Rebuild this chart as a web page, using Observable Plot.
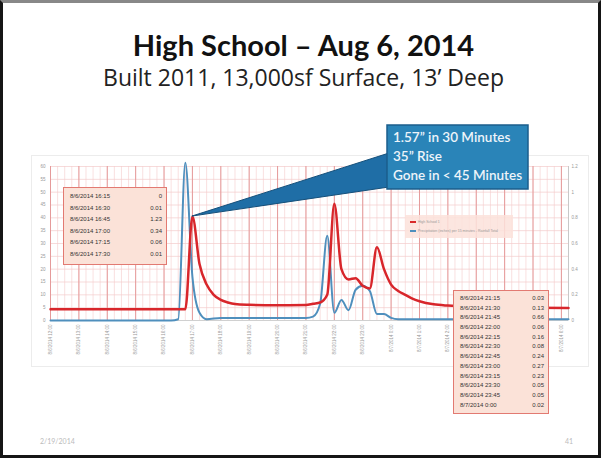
<!DOCTYPE html>
<html>
<head>
<meta charset="utf-8">
<script src="https://cdn.jsdelivr.net/npm/d3@7"></script>
<script src="https://cdn.jsdelivr.net/npm/@observablehq/plot@0.6"></script>
<style>
  html, body { margin: 0; padding: 0; background: #fff; }
  #slide { position: relative; width: 601px; height: 458px; box-sizing: border-box;
           border: 3px solid #151515; border-top-color: #888; overflow: hidden; background: #fff;
           font-family: Lato, "Open Sans", sans-serif; }
  #title { position: absolute; left: 0; width: 601px; top: 27px; text-align: center;
           font-size: 29px; font-weight: bold; color: #111; line-height: 1; }
  #subtitle { position: absolute; left: 0; width: 601px; top: 63px; text-align: center;
           font-size: 23px; color: #222; line-height: 1; font-family: "Open Sans", sans-serif; }
  #chart { position: absolute; left: 0; top: 150px; }
  #chartframe { position: absolute; left: 28px; top: 152px; width: 556px; height: 210px; border: 1px solid #ececec; }
  .tbl { position: absolute; background: #fbe2d8; border: 1px solid #e27a72; font-size: 6px; color: #333;
         font-family: "Liberation Sans", Arial, sans-serif; }
  .tbl .row { position: relative; }
  .tbl .row span.t { position: absolute; left: 6px; }
  .tbl .row span.v { position: absolute; right: 4px; }
  #legend { position: absolute; left: 402px; top: 212px; width: 108px; height: 23px; background: rgba(251,226,218,0.85);
            font-size: 3.5px; color: #999; font-family: "Liberation Sans", Arial, sans-serif; }
  #legend .item { position: absolute; left: 5px; }
  #legend .sw { display: inline-block; width: 6px; height: 1.5px; vertical-align: middle; margin-right: 2px; }
  #overlay { position: absolute; left: 0; top: 0; }
  .foot { position: absolute; top: 434px; font-size: 7px; color: #bbb; }
</style>
</head>
<body>
<div id="slide">
  <div id="title">High School – Aug 6, 2014</div>
  <div id="subtitle">Built 2011, 13,000sf Surface, 13’ Deep</div>
  <div id="chartframe"></div>
  <div id="chart"></div>
  <div id="legend">
    <div class="item" style="top:5px"><span class="sw" style="background:#d92b2b"></span>High School 1</div>
    <div class="item" style="top:14px"><span class="sw" style="background:#4e8fbe"></span>Precipitation (inches) per 15 minutes - Rainfall Total</div>
  </div>
  <div class="tbl" id="tblA"></div>
  <div class="tbl" id="tblB"></div>
  <svg id="overlay" width="601" height="458"></svg>
  <div class="foot" style="left:37px">2/19/2014</div>
  <div class="foot" style="left:562px">41</div>
</div>
<script>
// ---- Data ----
// Water level (inches, left axis)
const levelTimes = [
  "2014-08-06T12:00", "2014-08-06T16:45", "2014-08-06T17:00", "2014-08-06T17:15", "2014-08-06T17:30",
  "2014-08-06T17:45", "2014-08-06T18:00", "2014-08-06T18:15", "2014-08-06T18:30", "2014-08-06T19:00",
  "2014-08-06T20:00", "2014-08-06T21:00", "2014-08-06T21:15", "2014-08-06T21:30", "2014-08-06T21:45",
  "2014-08-06T22:00", "2014-08-06T22:15", "2014-08-06T22:30", "2014-08-06T22:45", "2014-08-06T23:00",
  "2014-08-06T23:15", "2014-08-06T23:30", "2014-08-06T23:45", "2014-08-07T00:00", "2014-08-07T00:15",
  "2014-08-07T00:30", "2014-08-07T00:45", "2014-08-07T01:00", "2014-08-07T01:30", "2014-08-07T02:00",
  "2014-08-07T03:00", "2014-08-07T04:00", "2014-08-07T05:00", "2014-08-07T06:15"
];
const levelValues = [
  4.4, 4.4, 40.5, 22, 14,
  10, 8, 7, 6.4, 6.1,
  5.9, 6.0, 6.5, 7, 10,
  45.5, 20, 16, 16.5, 13.5,
  12.5, 28.5, 20, 14, 11.5,
  10, 8.5, 7.5, 6.3, 5.8,
  5.4, 5.2, 5.0, 4.9
];
// Rainfall per 15 min (inches, right axis) — blue line
const rainTimes = [
  "2014-08-06T12:00", "2014-08-06T16:15", "2014-08-06T16:30", "2014-08-06T16:45", "2014-08-06T17:00",
  "2014-08-06T17:15", "2014-08-06T17:30", "2014-08-06T18:00", "2014-08-06T21:00", "2014-08-06T21:15",
  "2014-08-06T21:30", "2014-08-06T21:45", "2014-08-06T22:00", "2014-08-06T22:15", "2014-08-06T22:30",
  "2014-08-06T22:45", "2014-08-06T23:00", "2014-08-06T23:15", "2014-08-06T23:30", "2014-08-06T23:45",
  "2014-08-07T00:00", "2014-08-07T00:15", "2014-08-07T06:15"
];
const rainValues = [
  0, 0, 0.01, 1.23, 0.34,
  0.06, 0.01, 0.02, 0.02, 0.03,
  0.13, 0.66, 0.06, 0.16, 0.08,
  0.24, 0.27, 0.23, 0.05, 0.05,
  0.02, 0.01, 0.01
];
const leftTicks = [0, 5, 10, 15, 20, 25, 30, 35, 40, 45, 50, 55, 60];
const rightTicks = [0, 0.2, 0.4, 0.6, 0.8, 1, 1.2];
const tableATimes = ["8/6/2014 16:15", "8/6/2014 16:30", "8/6/2014 16:45", "8/6/2014 17:00", "8/6/2014 17:15", "8/6/2014 17:30"];
const tableAValues = ["0", "0.01", "1.23", "0.34", "0.06", "0.01"];
const tableBTimes = ["8/6/2014 21:15", "8/6/2014 21:30", "8/6/2014 21:45", "8/6/2014 22:00", "8/6/2014 22:15", "8/6/2014 22:30",
                     "8/6/2014 22:45", "8/6/2014 23:00", "8/6/2014 23:15", "8/6/2014 23:30", "8/6/2014 23:45", "8/7/2014 0:00"];
const tableBValues = ["0.03", "0.13", "0.66", "0.06", "0.16", "0.08", "0.24", "0.27", "0.23", "0.05", "0.05", "0.02"];
const calloutLines = ["1.57\u201d in 30 Minutes", "35\u201d Rise", "Gone in < 45 Minutes"];

// ---- Build ----
const P = s => new Date(s + ":00Z");
const level = levelTimes.map((t, i) => ({t: P(t), v: levelValues[i]}));
const rain = rainTimes.map((t, i) => ({t: P(t), v: rainValues[i]}));
const x0 = P("2014-08-06T12:00"), x1 = P("2014-08-07T06:15");
const ratio = 60 / 1.2; // right axis -> left axis
const fmt = d3.utcFormat("%-m/%-d/%Y %-H:%M");
const hours = d3.utcHour.range(x0, new Date(+x1 + 1));
const quarters = d3.utcMinute.every(15).range(x0, new Date(+x1 + 1));

const W = 580, H = 220, ML = 47, MR = 15, MT = 13, MB = 53;
const plot = Plot.plot({
  width: W, height: H,
  marginLeft: ML, marginRight: MR, marginTop: MT, marginBottom: MB,
  style: {background: "transparent", fontFamily: "Liberation Sans, Arial, sans-serif", color: "#999"},
  x: {type: "utc", domain: [x0, x1], label: null},
  y: {domain: [0, 60], label: null},
  marks: [
    Plot.gridX(quarters, {stroke: "#f6d3d3", strokeOpacity: 1, strokeWidth: 0.7}),
    Plot.gridY(leftTicks, {stroke: "#f4cccc", strokeOpacity: 1, strokeWidth: 0.7}),
    Plot.gridX(hours, {stroke: "#e59a9a", strokeOpacity: 1, strokeWidth: 1}),
    Plot.axisY(leftTicks, {tickSize: 0, tickPadding: 5, fontSize: 4.5, fill: "#999", label: null}),
    Plot.axisY(rightTicks.map(d => d * ratio), {anchor: "right", tickSize: 0, tickPadding: 3, fontSize: 4.5, fill: "#999", label: null,
      tickFormat: d => String(+(d / ratio).toFixed(1))}),
    Plot.axisX(hours, {tickSize: 0, tickPadding: 4, tickRotate: -90, tickFormat: fmt, fontSize: 4.5, fill: "#999", label: null}),
    Plot.ruleX([x1], {stroke: "#c8c8c8"}),
    Plot.ruleY([0], {stroke: "#d0d0d0"}),
    Plot.line(rain, {x: "t", y: d => d.v * ratio, stroke: "#4f8fbd", strokeWidth: 2, curve: "monotone-x"}),
    Plot.line(level, {x: "t", y: "v", stroke: "#d8262b", strokeWidth: 2.5, curve: "monotone-x"})
  ]
});
document.getElementById("chart").appendChild(plot);

// tables
function fillTable(el, times, vals, left, top, width, rowH) {
  el.style.left = left + "px"; el.style.top = top + "px"; el.style.width = width + "px";
  el.style.height = (rowH * times.length + 6) + "px";
  times.forEach((t, i) => {
    const r = document.createElement("div");
    r.className = "row"; r.style.height = rowH + "px"; r.style.lineHeight = rowH + "px";
    if (i === 0) r.style.marginTop = "3px";
    r.innerHTML = `<span class="t">${t}</span><span class="v">${vals[i]}</span>`;
    el.appendChild(r);
  });
}
fillTable(document.getElementById("tblA"), tableATimes, tableAValues, 60, 184, 102, 11.6);
fillTable(document.getElementById("tblB"), tableBTimes, tableBValues, 450, 287, 94, 9.7);

// callout anchored at the first red peak
const sx = plot.scale("x"), sy = plot.scale("y");
const peak = level[2];
const px = sx.apply(peak.t), py = 150 + sy.apply(peak.v);
const ov = d3.select("#overlay");
const cx = 384, cy = 122, cw = 141, ch = 64;
ov.append("polygon").attr("points", `${px},${py} ${cx + 2},${cy + 28} ${cx + 2},${cy + ch - 2}`)
  .attr("fill", "#1f6ea6").attr("stroke", "#16507a").attr("stroke-width", 1);
ov.append("rect").attr("x", cx).attr("y", cy).attr("width", cw).attr("height", ch)
  .attr("fill", "#2a84b8").attr("stroke", "#1b5e8c").attr("stroke-width", 1.5);
calloutLines.forEach((s, i) => {
  ov.append("text").attr("x", cx + 6).attr("y", cy + 17 + i * 19).text(s)
    .attr("fill", "#eef4fa").attr("font-size", 13.5).attr("font-weight", 600).attr("font-family", "Lato, sans-serif");
});
</script>
</body>
</html>
